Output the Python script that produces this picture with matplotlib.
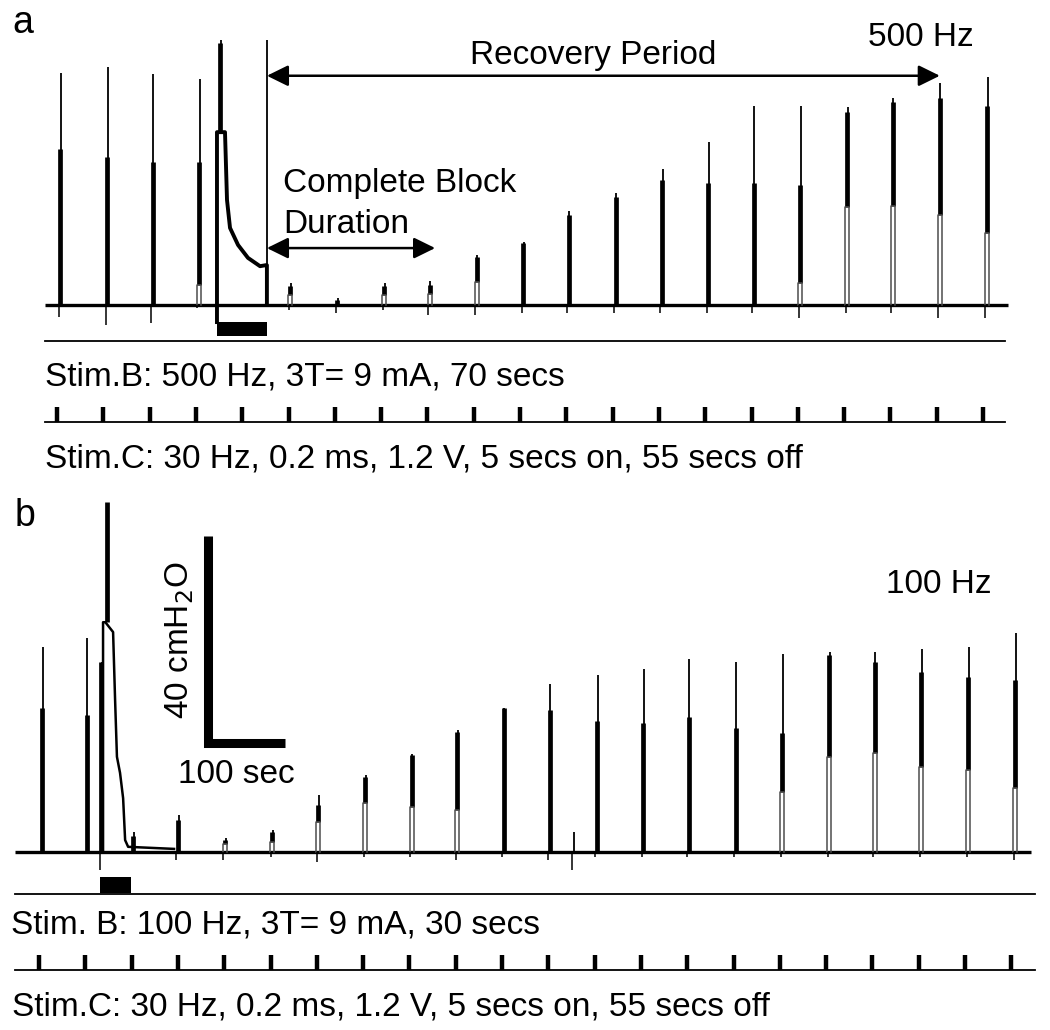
import matplotlib.pyplot as plt
import matplotlib.transforms as mtransforms

plt.rcParams['font.family'] = ['Liberation Sans', 'DejaVu Sans']

# time in s (0 = first Stim.C train), pressure in cmH2O
PX_PER_S = 0.7717
PX_PER_CM = 5.175

# ---- panel a: 500 Hz ----
a_stimc = [0, 60, 120, 180, 240, 300, 360, 420, 480, 540, 600, 660, 720, 780,
           840, 900, 960, 1020, 1080, 1140, 1200]
a_block = (207, 272)
a_spk_t = [4, 65, 124, 184, 302, 363, 424, 483, 544, 604, 663, 724, 784, 844,
           903, 963, 1024, 1083, 1144, 1205]
a_spk_peak = [44.8, 46.0, 44.6, 43.7, 4.3, 1.4, 4.3, 4.6, 9.7, 12.2, 18.2, 21.6,
              26.3, 31.5, 38.5, 38.5, 38.3, 40.0, 42.9, 44.1]
a_spk_top = [30.1, 28.6, 27.6, 27.6, 3.6, 1.0, 3.6, 3.8, 9.3, 12.0, 17.4, 20.9,
             24.2, 23.6, 23.6, 23.2, 37.3, 39.2, 40.0, 38.5]
a_spk_bot = [0, 0, 0, 3.9, 2.0, 0, 2.0, 2.2, 4.4, 0, 0, 0, 0, 0, 0, 4.3, 18.9,
             19.1, 17.4, 13.9]
a_spk_dip = [-2.3, -3.9, -3.5, -0.5, -1.0, -1.5, -1.0, -2.0, -2.0, -1.5, -1.5,
             -1.5, -1.5, -1.5, -1.5, -2.5, -1.5, -1.5, -2.5, -2.5]
a_burst = (212.5, 51.2, 33.4)
a_decay_t = [207.3, 207.3, 217.7, 220.3, 224.2, 234.6, 247.5, 263.1, 270.8, 272, 272]
a_decay_p = [-3.3, 33.4, 33.4, 20.3, 14.9, 11.6, 9.1, 7.5, 7.7, 7.7, 0]
a_span = (-15, 1232)
a_recovery = (272, 1144)
a_complete = (272, 490)

# ---- panel b: 100 Hz ----
b_stimc = [0, 60, 120, 180, 240, 300, 360, 420, 480, 540, 600, 660, 720, 780,
           840, 900, 960, 1020, 1080, 1140, 1200, 1260]
b_block = (79, 119)
b_spk_t = [4, 62, 80.5, 122, 180, 241, 302, 362, 423, 483, 542, 602, 662, 693,
           723, 783, 842, 903, 963, 1024, 1083, 1143, 1204, 1265]
b_spk_peak = [39.6, 41.4, 36.7, 3.9, 7.1, 2.7, 4.3, 11.0, 14.9, 18.9, 23.6, 27.8,
              32.5, 3.9, 34.2, 35.4, 37.3, 36.7, 38.3, 38.6, 38.6, 39.2, 39.6, 42.3]
b_spk_top = [27.8, 26.5, 36.7, 3.0, 6.2, 2.4, 3.8, 9.1, 14.5, 18.7, 23.2, 27.8,
             27.4, 0, 25.3, 24.9, 26.1, 24.0, 23.0, 38.1, 36.7, 34.8, 33.8, 33.2]
b_spk_bot = [0, 0, 0, 0, 0, 1.5, 2.0, 5.8, 9.5, 8.7, 8.1, 0, 0, 0, 0, 0, 0, 0,
             11.6, 18.4, 19.1, 16.4, 15.8, 12.4]
b_spk_dip = [0, 0, -3.5, 0, -1.5, -1.5, -1.0, -2.0, -1.0, -1.0, -1.5, -1.0, -1.5,
             -3.5, -1.0, -1.0, -1.0, -1.0, -1.0, -1.0, -1.0, -1.0, -1.0, -1.5]
b_burst = (88, 67.6, 44.4)
b_decay_t = [83, 83, 86, 96, 98.6, 101, 105, 109, 111.6, 115.5, 175]
b_decay_p = [0, 44.4, 44.4, 42.5, 29.4, 18.4, 15.3, 10.4, 2.3, 1.0, 0.6]
b_span = (-31, 1286)

W, H = 1050, 1030
fig = plt.figure(figsize=(10.5, 10.3), dpi=100)

# layout overlay in pixel units
lay = fig.add_axes([0, 0, 1, 1])
lay.set_xlim(0, W)
lay.set_ylim(H, 0)
lay.axis('off')


def panel(x0_px, base_px):
    ax = fig.add_axes([0, 0, 1, 1])
    ax.set_xlim(-x0_px / PX_PER_S, (W - x0_px) / PX_PER_S)
    ax.set_ylim((base_px - H) / PX_PER_CM, base_px / PX_PER_CM)
    ax.axis('off')
    ax.patch.set_alpha(0)
    return ax


def draw_trace(ax, span, t, peak, top, bot, dip):
    ax.plot(span, [0, 0], color='k', lw=2.4, solid_capstyle='butt')
    for ti, pk, tp, bt, dp in zip(t, peak, top, bot, dip):
        ax.vlines(ti + 0.8, bt, pk, colors='k', lw=1.3)
        if tp > bt:
            ax.vlines(ti, bt, tp, colors='k', lw=3.4)
        if bt > 0:
            ax.plot([ti - 2.5, ti - 2.5, ti + 2.5, ti + 2.5], [0, bt, bt, 0],
                    color='0.3', lw=1.1)
        if dp < 0:
            ax.vlines(ti - 2, dp, 0, colors='k', lw=1.1)


def stim_rows(ax, stimc, block, y_line_b, y_bar, y_line_c, x_from, x_to):
    bt = mtransforms.blended_transform_factory(ax.transData, lay.transData)
    lay.plot([x_from, x_to], [y_line_b, y_line_b], color='k', lw=1.3)
    lay.plot([x_from, x_to], [y_line_c, y_line_c], color='k', lw=1.3)
    ax.fill_between(block, y_bar[0], y_bar[1], color='k', transform=bt, lw=0)
    ax.vlines(stimc, y_line_c - 15, y_line_c, colors='k', lw=3.2, transform=bt)


arrow = dict(arrowstyle='<|-|>,head_length=0.65,head_width=0.32', color='k',
             lw=1.8, mutation_scale=20, shrinkA=0, shrinkB=0)

# panel a
ax_a = panel(57, 305)
draw_trace(ax_a, a_span, a_spk_t, a_spk_peak, a_spk_top, a_spk_bot, a_spk_dip)
ax_a.plot(a_decay_t, a_decay_p, color='k', lw=2.8)
ax_a.vlines(a_burst[0], a_decay_p[1], a_burst[1], colors='k', lw=1.3)
ax_a.vlines(a_burst[0] - 1, a_burst[2], a_burst[1] - 0.6, colors='k', lw=3.4)
ax_a.vlines(a_recovery[0], 0, a_burst[1], colors='k', lw=1.3)
ax_a.annotate('', xy=(a_recovery[1], 44.3), xytext=(a_recovery[0], 44.3), arrowprops=arrow)
ax_a.annotate('', xy=(a_complete[1], 11.0), xytext=(a_complete[0], 11.0), arrowprops=arrow)
stim_rows(ax_a, a_stimc, a_block, 341, (322, 336), 422, 45, 1005)

# panel b
ax_b = panel(39, 852)
draw_trace(ax_b, b_span, b_spk_t, b_spk_peak, b_spk_top, b_spk_bot, b_spk_dip)
ax_b.plot(b_decay_t, b_decay_p, color='k', lw=1.8)
ax_b.vlines(b_burst[0], b_burst[2], b_burst[1], colors='k', lw=3.4)
stim_rows(ax_b, b_stimc, b_block, 894, (877, 893), 970, 15, 1035)

# scale bar: 40 cmH2O x 100 sec
sb_t, sb_p = 219, 21.1
ax_b.plot([sb_t, sb_t, sb_t + 100], [sb_p + 40, sb_p, sb_p], color='k', lw=6.5,
          solid_joinstyle='miter', solid_capstyle='butt')

fs = 24
txt = dict(fontsize=fs, color='k', va='baseline', ha='left')
lay.text(12, 33, 'a', fontsize=27, va='baseline', ha='left')
lay.text(868, 46, '500 Hz', **txt)
lay.text(470, 64, 'Recovery Period', **txt)
lay.text(283, 192, 'Complete Block', **txt)
lay.text(283, 233, 'Duration', **txt)
lay.text(45, 385, 'Stim.B: 500 Hz, 3T= 9 mA, 70 secs', **txt)
lay.text(45, 468, 'Stim.C: 30 Hz, 0.2 ms, 1.2 V, 5 secs on, 55 secs off', **txt)
lay.text(15, 526, 'b', fontsize=27, va='baseline', ha='left')
lay.text(886, 593, '100 Hz', **txt)
lay.text(180, 640, '40 cmH$_2$O', fontsize=fs, rotation=90, ha='center', va='center')
lay.text(178, 783, '100 sec', **txt)
lay.text(11, 934, 'Stim. B: 100 Hz, 3T= 9 mA, 30 secs', **txt)
lay.text(12, 1015, 'Stim.C: 30 Hz, 0.2 ms, 1.2 V, 5 secs on, 55 secs off', **txt)

fig.savefig('out.png', dpi=100)
